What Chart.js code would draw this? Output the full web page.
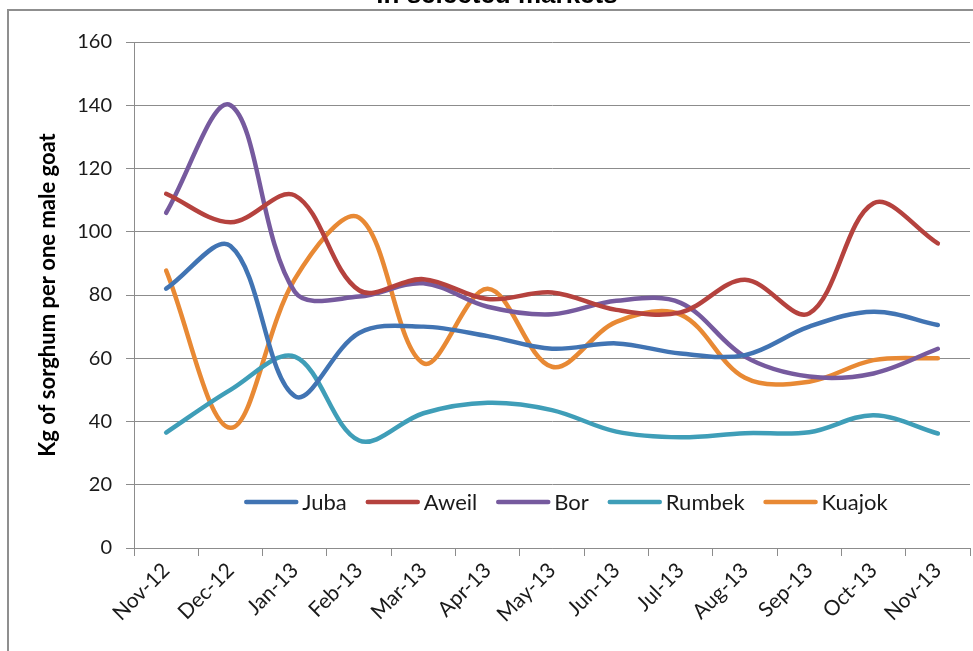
<!DOCTYPE html>
<html>
<head>
<meta charset="utf-8">
<script src="https://cdn.jsdelivr.net/npm/chart.js@4.4.1/dist/chart.umd.min.js"></script>
<style>
  html, body { margin: 0; padding: 0; background: #fff; }
  #wrap { position: relative; width: 973px; height: 651px; }
</style>
</head>
<body>
<div id="wrap"><canvas id="goatChart" width="973" height="651"></canvas></div>
<script>
// months shown on the category axis
var MonthLabels = ['Nov-12', 'Dec-12', 'Jan-13', 'Feb-13', 'Mar-13', 'Apr-13', 'May-13',
                   'Jun-13', 'Jul-13', 'Aug-13', 'Sep-13', 'Oct-13', 'Nov-13'];

// kg of sorghum per one male goat, by market
var JubaValues   = [82, 95.5, 48, 68, 70, 67, 63, 64.7, 61.5, 61, 70, 74.7, 70.5];
var AweilValues  = [112, 103, 111.5, 81.5, 85, 78.7, 80.8, 75.3, 74.5, 84.8, 74.2, 109, 96.3];
var BorValues    = [106, 140, 81, 79.5, 83.7, 76.3, 73.9, 78.2, 77.5, 60.5, 54.2, 55.2, 63];
var RumbekValues = [36.5, 50, 60.5, 34, 42.6, 45.9, 43.6, 36.8, 35, 36.3, 36.6, 42, 36.2];
var KuajokValues = [87.7, 38, 85, 104.5, 58.4, 82, 57.3, 71.5, 73.8, 53.8, 52.6, 59.4, 60];

var MarketNames  = ['Juba', 'Aweil', 'Bor', 'Rumbek', 'Kuajok'];
var MarketColors = ['#4174B3', '#B5423E', '#765A9E', '#3F9EB8', '#E88934'];
var YTicks = [0, 20, 40, 60, 80, 100, 120, 140, 160];

var FontName = "Lato, 'Open Sans', sans-serif";

function getLineDataset(_label, _color, _values) {
    return {
        label: _label,
        data: _values,
        borderColor: _color,
        backgroundColor: _color,
        borderWidth: 4.5,
        pointRadius: 0,
        pointHoverRadius: 0,
        fill: false,
        tension: 0.35,
        borderCapStyle: 'round',
        borderJoinStyle: 'round'
    };
}

// frame and the cut-off title above it
var framePlugin = {
    id: 'frame',
    beforeDraw: function (chart) {
        var ctx = chart.ctx;
        ctx.save();
        ctx.fillStyle = '#fff';
        ctx.fillRect(0, 0, chart.width, chart.height);
        ctx.strokeStyle = '#8f8f8f';
        ctx.lineWidth = 2;
        ctx.beginPath();
        ctx.moveTo(8, chart.height);
        ctx.lineTo(8, 10);
        ctx.lineTo(chart.width, 10);
        ctx.stroke();
        ctx.fillStyle = '#000';
        ctx.font = "bold 26px 'Liberation Sans', Arial, sans-serif";
        ctx.textAlign = 'center';
        ctx.textBaseline = 'alphabetic';
        ctx.fillText('in selected markets', 497, 3);
        ctx.restore();
    }
};

// legend drawn inside the plot area, as in the original
var innerLegendPlugin = {
    id: 'innerLegend',
    afterDatasetsDraw: function (chart) {
        var ctx = chart.ctx;
        var sets = chart.data.datasets;
        var lineLen = 54, textGap = 4, itemGap = 19;
        var yMid = 502, xMid = 566;
        ctx.save();
        ctx.font = '22px ' + FontName;
        var total = 0;
        for (var i = 0; i < sets.length; i++) {
            total += lineLen + textGap + ctx.measureText(sets[i].label).width;
            if (i < sets.length - 1) total += itemGap;
        }
        var x = xMid - total / 2;
        ctx.textAlign = 'left';
        ctx.textBaseline = 'middle';
        for (var i = 0; i < sets.length; i++) {
            ctx.strokeStyle = sets[i].borderColor;
            ctx.lineWidth = 4.5;
            ctx.lineCap = 'round';
            ctx.beginPath();
            ctx.moveTo(x + 2, yMid);
            ctx.lineTo(x + lineLen - 2, yMid);
            ctx.stroke();
            x += lineLen + textGap;
            ctx.fillStyle = '#1a1a1a';
            ctx.fillText(sets[i].label, x, yMid + 1);
            x += ctx.measureText(sets[i].label).width + itemGap;
        }
        ctx.restore();
    }
};

var AllValues = [JubaValues, AweilValues, BorValues, RumbekValues, KuajokValues];
var datasets = [];
for (var i = 0; i < MarketNames.length; i++) {
    datasets.push(getLineDataset(MarketNames[i], MarketColors[i], AllValues[i]));
}

var ctx = document.getElementById('goatChart');
var GoatChart = new Chart(ctx, {
    type: 'line',
    data: { labels: MonthLabels, datasets: datasets },
    plugins: [framePlugin, innerLegendPlugin],
    options: {
        responsive: false,
        animation: false,
        events: [],
        layout: { padding: { left: 0, top: 42, right: 3, bottom: 0 } },
        plugins: { legend: { display: false }, tooltip: { enabled: false } },
        scales: {
            x: {
                type: 'category',
                offset: true,
                grid: {
                    display: true,
                    offset: true,
                    drawOnChartArea: false,
                    drawTicks: true,
                    tickLength: 8,
                    color: '#8c8c8c',
                    lineWidth: 1
                },
                border: { display: true, color: '#8c8c8c', width: 1 },
                ticks: {
                    autoSkip: false,
                    maxRotation: 45,
                    minRotation: 45,
                    padding: 2,
                    color: '#1a1a1a',
                    font: { family: FontName, size: 21 }
                },
                afterFit: function (scale) {
                    scale.height = 103;
                    scale.paddingLeft = 0;
                    scale.paddingRight = 0;
                }
            },
            y: {
                min: 0,
                max: 160,
                afterBuildTicks: function (scale) {
                    scale.ticks = YTicks.map(function (v) { return { value: v }; });
                },
                grid: {
                    color: '#8c8c8c',
                    lineWidth: 1,
                    drawTicks: true,
                    tickLength: 8
                },
                border: { display: true, color: '#8c8c8c', width: 1 },
                ticks: {
                    padding: 14,
                    color: '#1a1a1a',
                    font: { family: FontName, size: 20 }
                },
                title: {
                    display: true,
                    text: 'Kg of sorghum per one male goat',
                    color: '#000',
                    font: { family: FontName, size: 22, weight: 'bold' },
                    padding: { top: 35, bottom: 0 }
                },
                afterFit: function (scale) {
                    scale.width = 134;
                    scale.paddingTop = 0;
                    scale.paddingBottom = 0;
                }
            }
        }
    }
});
</script>
</body>
</html>
